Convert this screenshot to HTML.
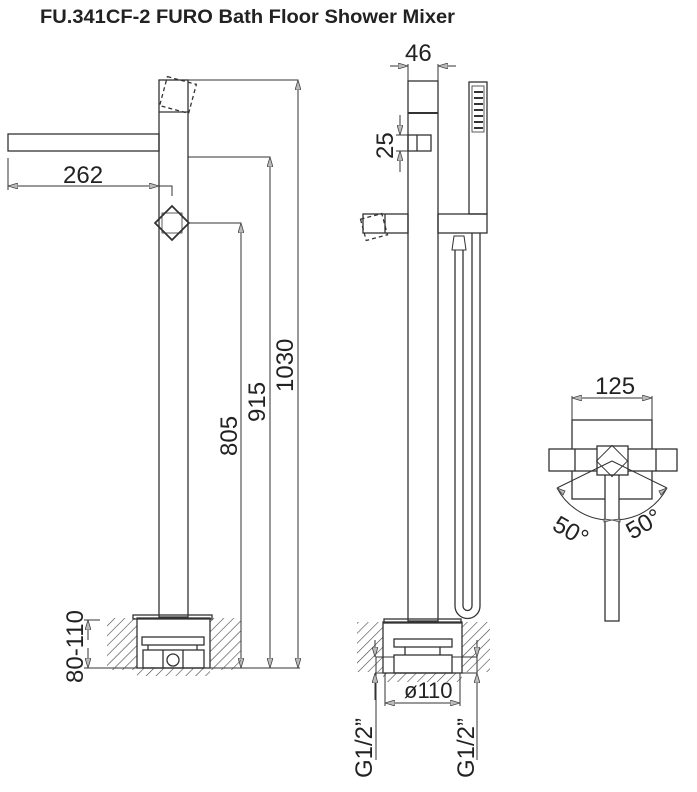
<!DOCTYPE html>
<html><head><meta charset="utf-8"><style>
html,body{margin:0;padding:0;background:#fff;}
svg{display:block;}
text{font-family:"Liberation Sans",sans-serif;fill:#222;}
</style></head><body>
<svg width="697" height="792" viewBox="0 0 697 792" xmlns="http://www.w3.org/2000/svg">
<defs>
<pattern id="h" width="7" height="7" patternUnits="userSpaceOnUse" patternTransform="rotate(45)">
<line x1="0" y1="0" x2="0" y2="7" stroke="#444" stroke-width="1.2"/>
</pattern>
<marker id="a" viewBox="0 0 10 6" refX="10" refY="3" markerWidth="10" markerHeight="6" orient="auto-start-reverse" markerUnits="userSpaceOnUse">
<path d="M0,0 L10,3 L0,6 z" fill="#bbb" stroke="#444" stroke-width="0.8"/>
</marker>
</defs>
<text x="40" y="23" font-weight="bold" font-size="19" textLength="415" lengthAdjust="spacingAndGlyphs">FU.341CF-2 FURO Bath Floor Shower Mixer</text>

<g stroke="#333" stroke-width="1.3" fill="none">
<rect x="159" y="80" width="29" height="537"/>
<line x1="159" y1="112" x2="188" y2="112"/>
<rect x="163" y="80" width="30" height="30" stroke-dasharray="4,3" transform="rotate(15 178 95)"/>
<rect x="8" y="134" width="151" height="17"/>
<line x1="8" y1="186" x2="159" y2="186" marker-start="url(#a)" marker-end="url(#a)" stroke-width="1"/>
<polyline points="159,186 172,186 172,196" stroke-width="1"/>
<line x1="8" y1="158" x2="8" y2="190" stroke-width="1"/>
<rect x="160" y="211" width="24" height="24" transform="rotate(45 172 223)" stroke-width="1.8"/>
<rect x="162" y="213" width="20" height="20" stroke-width="0.8"/>
<g stroke-width="1">
<polyline points="188,80 298,80 298,668"/>
<polyline points="188,157 270,157 270,668"/>
<polyline points="190,223 241,223 241,668"/>
<line x1="298" y1="80" x2="298" y2="110" marker-start="url(#a)"/>
<line x1="270" y1="157" x2="270" y2="187" marker-start="url(#a)"/>
<line x1="241" y1="223" x2="241" y2="253" marker-start="url(#a)"/>
<line x1="298" y1="640" x2="298" y2="668" marker-end="url(#a)"/>
<line x1="270" y1="640" x2="270" y2="668" marker-end="url(#a)"/>
<line x1="241" y1="640" x2="241" y2="668" marker-end="url(#a)"/>
<line x1="84" y1="668" x2="300" y2="668"/>
<line x1="84" y1="620" x2="100" y2="620"/>
<line x1="88" y1="620" x2="88" y2="640" marker-start="url(#a)"/>
<line x1="88" y1="648" x2="88" y2="668" marker-end="url(#a)"/>
</g>
<path d="M107,618 H137 V670 H107 Z M210,618 H241 V670 H210 Z M137,668 H210 V676 H137 Z" fill="url(#h)" stroke="none"/>
<rect x="137" y="618" width="73" height="50"/>
<rect x="133" y="615" width="79" height="4"/>
<rect x="142" y="637" width="62" height="8"/>
<line x1="148" y1="645" x2="148" y2="650"/><line x1="197" y1="645" x2="197" y2="650"/>
<rect x="143" y="650" width="61" height="18"/>
<line x1="163" y1="650" x2="163" y2="668"/><line x1="183" y1="650" x2="183" y2="668"/>
<circle cx="173" cy="660" r="6"/>

<rect x="408" y="81" width="30" height="540"/>
<line x1="408" y1="113" x2="438" y2="113" stroke-width="2"/>
<g stroke-width="1">
<line x1="408" y1="64" x2="408" y2="81"/><line x1="438" y1="64" x2="438" y2="81"/>
<line x1="390" y1="66" x2="408" y2="66" marker-end="url(#a)"/>
<line x1="456" y1="66" x2="438" y2="66" marker-end="url(#a)"/>
<line x1="400" y1="115" x2="400" y2="135" marker-end="url(#a)"/>
<line x1="400" y1="172" x2="400" y2="151" marker-end="url(#a)"/>
<line x1="396" y1="135" x2="408" y2="135"/><line x1="396" y1="151" x2="408" y2="151"/>
</g>
<rect x="408" y="135" width="23" height="16"/>
<line x1="417" y1="135" x2="417" y2="151"/>
<rect x="469" y="82" width="18" height="132"/>
<rect x="472" y="86" width="12" height="46" stroke-width="0.8"/>
<g stroke-width="2"><line x1="474" y1="92" x2="483" y2="92"/><line x1="474" y1="98" x2="483" y2="98"/><line x1="474" y1="104" x2="483" y2="104"/><line x1="474" y1="110" x2="483" y2="110"/><line x1="474" y1="116" x2="483" y2="116"/><line x1="474" y1="122" x2="483" y2="122"/><line x1="474" y1="128" x2="483" y2="128"/></g>
<rect x="438" y="214" width="49" height="19"/>
<rect x="363" y="214" width="45" height="19"/>
<rect x="363" y="216" width="22" height="22" stroke-dasharray="4,3" transform="rotate(-15 374 227)"/>
<line x1="385" y1="214" x2="385" y2="233"/>
<path d="M452,250 L454,236 H464 L466,250 Z" stroke-width="1"/>
<path d="M455,250 V606 A12.5,12.5 0 0 0 480,606 V233" />
<path d="M463,250 V606 A4.5,4.5 0 0 0 472,606 V233" />
<path d="M357,622 H383 V672 H357 Z M462,622 H490 V672 H462 Z M383,673 H462 V682 H383 Z" fill="url(#h)" stroke="none"/>
<rect x="383" y="622" width="79" height="51"/>
<rect x="384" y="619" width="77" height="4"/>
<rect x="394" y="639" width="58" height="8"/>
<line x1="405" y1="647" x2="405" y2="655"/><line x1="440" y1="647" x2="440" y2="655"/>
<rect x="394" y="655" width="58" height="18"/>
<g stroke-width="1">
<polyline points="394,657 376,657 376,760"/>
<polyline points="452,657 477,657 477,760"/>
<polyline points="394,673 375,673"/>
<polyline points="452,673 477,673"/>
<line x1="375" y1="700" x2="375" y2="673" marker-end="url(#a)"/>
<line x1="477" y1="700" x2="477" y2="673" marker-end="url(#a)"/>
<line x1="375" y1="640" x2="375" y2="657" marker-end="url(#a)"/>
<line x1="477" y1="640" x2="477" y2="657" marker-end="url(#a)"/>
<line x1="385" y1="673" x2="385" y2="706"/><line x1="460" y1="673" x2="460" y2="706"/>
<line x1="400" y1="703" x2="385" y2="703" marker-end="url(#a)"/>
<line x1="445" y1="703" x2="460" y2="703" marker-end="url(#a)"/>
<line x1="400" y1="703" x2="445" y2="703"/>
</g>

<rect x="572" y="420" width="80" height="79"/>
<line x1="572" y1="420" x2="572" y2="396" stroke-width="1"/><line x1="652" y1="420" x2="652" y2="396" stroke-width="1"/>
<line x1="572" y1="398" x2="652" y2="398" stroke-width="1" marker-start="url(#a)" marker-end="url(#a)"/>
<rect x="549" y="449" width="128" height="22" fill="#fff"/>
<line x1="575" y1="449" x2="575" y2="471"/><line x1="656" y1="449" x2="656" y2="471"/>
<rect x="605" y="471" width="14" height="150" fill="#fff"/>
<rect x="597" y="446" width="31" height="29" fill="#fff"/>
<rect x="601" y="450" width="22" height="22" transform="rotate(45 612 461)" stroke-width="0.9"/>
<g stroke-width="1">
<line x1="612" y1="461" x2="557" y2="488"/>
<line x1="612" y1="461" x2="667" y2="488"/>
<path d="M557,488 A60,60 0 0 0 612,520 A60,60 0 0 0 667,488"/>
</g>
</g>
<path d="M557,488 l8,3 l-2,4 z M667,488 l-8,3 l2,4 z M604,519 l8,1 l-8,2 z M620,519 l-8,1 l8,2 z" fill="#bbb" stroke="#444" stroke-width="0.8"/>

<g font-size="24">
<text x="63" y="183">262</text>
<text x="405" y="61">46</text>
<text x="595" y="394">125</text>
<text x="404" y="698" font-size="22">ø110</text>
<text transform="translate(293,392) rotate(-90)">1030</text>
<text transform="translate(265,422) rotate(-90)">915</text>
<text transform="translate(237,456) rotate(-90)">805</text>
<text transform="translate(83,683) rotate(-90)">80-110</text>
<text transform="translate(393,159) rotate(-90)">25</text>
<text transform="translate(372,778) rotate(-90)">G1/2”</text>
<text transform="translate(474,778) rotate(-90)">G1/2”</text>
<text transform="translate(551,529) rotate(30)">50°</text>
<text transform="translate(632,540) rotate(-30)">50°</text>
</g>
</svg>
</body></html>
